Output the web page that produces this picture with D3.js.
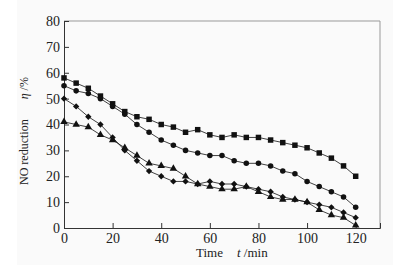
<!doctype html>
<html>
<head>
    <script src="https://d3js.org/d3.v7.min.js"></script>
    <style>
        body { margin: 0; background: #fff; }
        text { font-family: "Liberation Serif", "DejaVu Serif", serif; fill: #222; }
    </style>
</head>
<body>
    <script>
        // time in minutes, one reading every 5 min
        let times = [0, 5, 10, 15, 20, 25, 30, 35, 40, 45, 50, 55, 60, 65, 70, 75, 80, 85, 90, 95, 100, 105, 110, 115, 120];
        let squareData = [58, 56, 54, 51, 48, 45, 43, 42, 40, 39, 37, 38, 36, 35, 36, 35, 35, 34, 33, 32, 31, 29, 27, 24, 20];
        let circleData = [55, 53, 52, 50, 47, 44, 40, 37, 34, 32, 30, 29, 28, 28, 26, 25, 25, 24, 22, 21, 18, 16, 14, 12, 8];
        let diamondData = [50, 47, 43, 40, 35, 30, 26, 22, 20, 18, 18, 17, 18, 17, 17, 16, 15, 14, 12, 11, 10, 9, 8, 6, 4];
        let triangleData = [41, 40, 39, 36, 34, 31, 28, 25, 24, 23, 20, 17, 16, 15, 15, 16, 14, 12, 11, 11, 10, 7, 5, 4, 1];
        let xTicks = [0, 20, 40, 60, 80, 100, 120];
        let yTicks = [0, 10, 20, 30, 40, 50, 60, 70, 80];

        let width = 414, height = 265;
        let mLeft = 64, mRight = 380, mTop = 21, mBottom = 228;

        let svg = d3.select("body").append("svg")
                    .attr("width", width).attr("height", height);

        // faint grey page behind the figure
        svg.append("rect").attr("x", 17).attr("y", 0).attr("width", 376).attr("height", height)
            .style("fill", "#fafafa");

        let x = d3.scaleLinear().domain([0, 130]).range([mLeft, mRight]);
        let y = d3.scaleLinear().domain([0, 80]).range([mBottom, mTop]);

        // frame: top and right in grey
        svg.append("line").attr("x1", mLeft).attr("x2", mRight).attr("y1", mTop).attr("y2", mTop)
            .style("stroke", "#999").style("stroke-width", 1);
        svg.append("line").attr("x1", mRight).attr("x2", mRight).attr("y1", mTop).attr("y2", mBottom)
            .style("stroke", "#999").style("stroke-width", 1);

        // minor ticks (inward)
        let xAxis = svg.append("g").attr("transform", "translate(0," + mBottom + ")");
        xAxis.call(d3.axisBottom(x).tickValues(d3.range(0, 130, 10)).tickSize(-3).tickFormat(""));
        xAxis.call(d3.axisBottom(x).tickValues(xTicks).tickSize(-5).tickPadding(5));
        let yAxis = svg.append("g").attr("transform", "translate(" + mLeft + ",0)");
        yAxis.call(d3.axisLeft(y).tickValues(d3.range(0, 81, 5)).tickSize(-3).tickFormat(""));
        yAxis.call(d3.axisLeft(y).tickValues(yTicks).tickSize(-5).tickPadding(4));

        svg.selectAll(".domain").style("stroke", "#333");
        svg.selectAll(".tick line").style("stroke", "#333");
        svg.selectAll(".tick text").style("font-size", "14px").style("font-family", "Liberation Serif").style("fill", "#222");

        // axis titles
        let xt = svg.append("text").attr("x", 196).attr("y", 257).style("font-size", "13px");
        xt.append("tspan").text("Time");
        xt.append("tspan").attr("dx", 14).style("font-style", "italic").text("t");
        xt.append("tspan").text(" /min");

        let yt = svg.append("text").attr("transform", "translate(28,131) rotate(-90)")
                    .attr("text-anchor", "middle").style("font-size", "12px");
        yt.append("tspan").text("NO reduction");
        yt.append("tspan").attr("dx", 20).style("font-style", "italic").text("η");
        yt.append("tspan").text(" /%");

        let line = d3.line().x(function(d){return x(d[0]);}).y(function(d){return y(d[1]);});

        let series = [
            {values: squareData, symbol: d3.symbolSquare, size: 30, rot: 0},
            {values: circleData, symbol: d3.symbolCircle, size: 24, rot: 0},
            {values: diamondData, symbol: d3.symbolSquare, size: 20, rot: 45},
            {values: triangleData, symbol: d3.symbolTriangle, size: 24, rot: 0}
        ];

        series.forEach(function(s){
            let pts = times.map(function(t, i){return [t, s.values[i]];});
            svg.append("path").datum(pts).attr("d", line)
                .style("fill", "none").style("stroke", "#111").style("stroke-width", 0.8);
            svg.selectAll(null).data(pts).enter().append("path")
                .attr("d", d3.symbol().type(s.symbol).size(s.size))
                .attr("transform", function(d){return "translate(" + x(d[0]) + "," + y(d[1]) + ") rotate(" + s.rot + ")";})
                .style("fill", "#111");
        });
    </script>
</body>
</html>
